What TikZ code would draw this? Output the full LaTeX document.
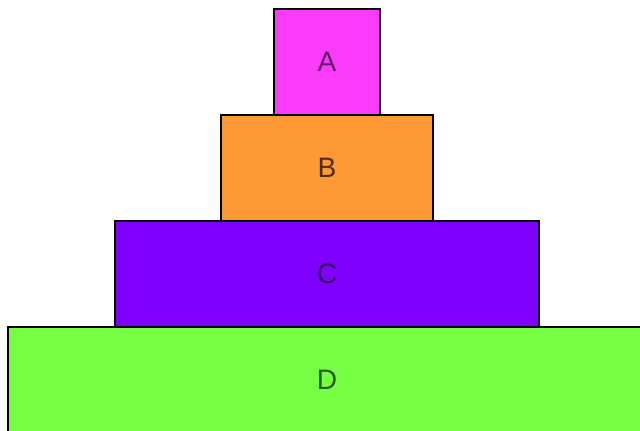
\documentclass[tikz,border=0pt]{standalone}
\usepackage{fontspec}
\setmainfont{Liberation Sans}
\definecolor{TierA}{RGB}{250, 60, 250}
\definecolor{TierB}{RGB}{255, 153, 51}
\definecolor{TierC}{RGB}{128, 0, 255}
\definecolor{TierD}{RGB}{119, 255, 68}
\usetikzlibrary{positioning}
\begin{document}
\begin{tikzpicture}[
  x=0.025cm, y=-0.025cm,
  tier/.style={
    draw=black, line width=1.3pt,
    minimum height=2.65cm, inner sep=0pt, outer sep=0pt,
    font=\fontsize{20}{24}\selectfont
  }
]
\useasboundingbox (0,0) rectangle (640,431);
\clip (0,0) rectangle (640,431);

% Etages de la pyramide
\node[tier, fill=TierA, text=TierA!40!black, minimum width=2.65cm] (a) at (327,62) {A};
\node[tier, fill=TierB, text=TierB!30!black, minimum width=5.3cm, below=0pt of a] (b) {B};
\node[tier, fill=TierC, text=TierC!40!black, minimum width=10.6cm, below=0pt of b] (c) {C};
\node[tier, fill=TierD, text=TierD!35!black, minimum width=15.95cm, below=0pt of c] (d) {D};
\end{tikzpicture}
\end{document}
